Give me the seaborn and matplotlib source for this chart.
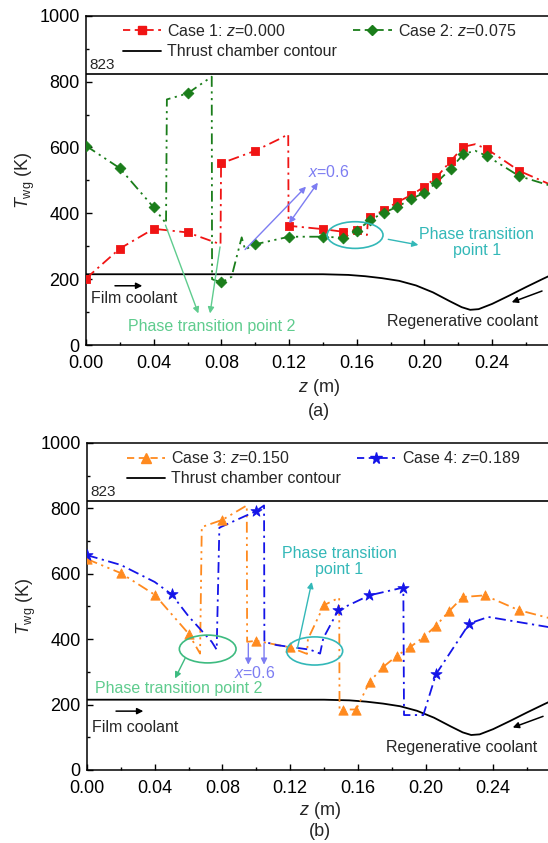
import numpy as np
import matplotlib
matplotlib.use('Agg')
import matplotlib.pyplot as plt
import seaborn as sns
from matplotlib.patches import Ellipse
from matplotlib.lines import Line2D
from matplotlib.ticker import MultipleLocator, FormatStrFormatter

# ---------------- data ----------------
# thrust chamber contour (same in both panels)
z_contour = [0, 0.05, 0.10, 0.14, 0.155, 0.165, 0.175, 0.185, 0.195, 0.205, 0.215,
             0.222, 0.227, 0.232, 0.24, 0.25, 0.26, 0.27, 0.275]
T_contour = [215, 215, 215, 215, 213, 209, 203, 195, 181, 160, 133,
             115, 107, 109, 125, 150, 176, 201, 213]

# Case 1: z=0.000 (red squares)
z1_line = [0.0, 0.02, 0.04, 0.06, 0.0795, 0.0798, 0.08, 0.10, 0.114, 0.1195, 0.1197, 0.12,
           0.14, 0.152, 0.160, 0.166, 0.1665, 0.168, 0.176, 0.184, 0.192, 0.200, 0.207,
           0.2155, 0.223, 0.230, 0.237, 0.256, 0.275]
T1_line = [202, 293, 353, 342, 306, 540, 552, 590, 625, 640, 370, 362,
           352, 344, 350, 334, 372, 388, 410, 434, 455, 481, 509,
           559, 602, 610, 595, 529, 486]
z1_mark = [0.0, 0.02, 0.04, 0.06, 0.08, 0.10, 0.12, 0.14, 0.152, 0.160, 0.168, 0.176,
           0.184, 0.192, 0.200, 0.207, 0.2155, 0.223, 0.237, 0.256]
T1_mark = [202, 293, 353, 342, 552, 590, 362, 352, 344, 350, 388, 410,
           434, 455, 481, 509, 559, 602, 595, 529]

# Case 2: z=0.075 (green diamonds)
z2_line = [0.0, 0.02, 0.04, 0.0473, 0.0478, 0.06, 0.0743, 0.0745, 0.08, 0.086, 0.092, 0.094,
           0.10, 0.12, 0.14, 0.152, 0.160, 0.168, 0.176, 0.184, 0.192, 0.200, 0.207,
           0.2155, 0.223, 0.230, 0.237, 0.256, 0.275]
T2_line = [605, 537, 418, 369, 746, 764, 815, 200, 190, 207, 327, 290,
           306, 329, 329, 326, 347, 380, 402, 420, 443, 463, 493,
           535, 580, 590, 574, 513, 483]
z2_mark = [0.0, 0.02, 0.04, 0.06, 0.08, 0.10, 0.12, 0.14, 0.152, 0.160, 0.168, 0.176,
           0.184, 0.192, 0.200, 0.207, 0.2155, 0.223, 0.237, 0.256]
T2_mark = [605, 537, 418, 764, 190, 306, 329, 329, 326, 347, 380, 402,
           420, 443, 463, 493, 535, 580, 574, 513]

# Case 3: z=0.150 (orange triangles)
z3_line = [0.0, 0.02, 0.04, 0.06, 0.0668, 0.0678, 0.08, 0.0944, 0.0946, 0.10, 0.12, 0.13,
           0.1305, 0.14, 0.149, 0.1492, 0.151, 0.159, 0.167, 0.175, 0.183, 0.191, 0.199,
           0.206, 0.214, 0.222, 0.235, 0.255, 0.275]
T3_line = [645, 602, 536, 417, 356, 743, 765, 809, 392, 395, 375, 355,
           400, 504, 527, 185, 185, 185, 270, 315, 349, 376, 407,
           440, 486, 529, 534, 489, 462]
z3_mark = [0.0, 0.02, 0.04, 0.06, 0.08, 0.10, 0.12, 0.14, 0.151, 0.159, 0.167, 0.175,
           0.183, 0.191, 0.199, 0.206, 0.214, 0.222, 0.235, 0.255]
T3_mark = [645, 602, 536, 417, 765, 395, 375, 504, 185, 185, 270, 315,
           349, 376, 407, 440, 486, 529, 534, 489]

# Case 4: z=0.189 (blue stars)
z4_line = [0.0, 0.02, 0.04, 0.05, 0.06, 0.0737, 0.0766, 0.0782, 0.10, 0.1046, 0.1048, 0.112,
           0.1318, 0.1377, 0.1396, 0.1485, 0.1668, 0.1869, 0.1873, 0.1987, 0.2062,
           0.2259, 0.2371, 0.275]
T4_line = [657, 627, 575, 537, 470, 392, 368, 741, 792, 809, 392, 382,
           368, 356, 403, 489, 534, 558, 168, 168, 293,
           448, 468, 435]
z4_mark = [0.0, 0.05, 0.10, 0.1485, 0.1668, 0.1869, 0.2062, 0.2259]
T4_mark = [657, 537, 792, 489, 534, 558, 293, 448]

labels_a = ['Case 1: $z$=0.000', 'Case 2: $z$=0.075', 'Thrust chamber contour']
labels_b = ['Case 3: $z$=0.150', 'Case 4: $z$=0.189', 'Thrust chamber contour']

# ---------------- style ----------------
sns.set_theme(style='white')
plt.rcParams['font.family'] = ['Liberation Sans', 'DejaVu Sans']
plt.rcParams['mathtext.fontset'] = 'custom'
plt.rcParams['mathtext.rm'] = 'Liberation Sans'
plt.rcParams['mathtext.it'] = 'Liberation Sans:italic'
plt.rcParams['axes.edgecolor'] = 'black'
plt.rcParams['axes.linewidth'] = 1.1

RED = '#f01414'
GREEN = '#1a7d1a'
ORANGE = '#ff8a1f'
BLUE = '#1414e8'
TEAL = '#33b8b8'
LGREEN = '#5fcc8e'
VIOLET = '#7d7df2'

LS_DD = (0, (6, 2.5, 1.2, 2.5))            # dash-dot
LS_DDD = (0, (6, 2.5, 1.2, 2.5, 1.2, 2.5))  # dash-dot-dot

fig = plt.figure(figsize=(5.48, 8.43), dpi=100)
ax_a = fig.add_axes([0.1569, 0.5907, 0.8493, 0.3906])
ax_b = fig.add_axes([0.1588, 0.0866, 0.8493, 0.3879])


def draw_case(ax, zl, Tl, zm, Tm, color, ls, marker, s):
    sns.lineplot(x=zl, y=Tl, sort=False, estimator=None, color=color,
                 linestyle=ls, lw=1.3, ax=ax, zorder=2)
    sns.scatterplot(x=zm, y=Tm, marker=marker, s=s, color=color,
                    edgecolor=color, linewidth=0.6, ax=ax, zorder=3)
    return Line2D([], [], color=color, linestyle=(0, (4, 2.5)), lw=1.3,
                  marker=marker, markersize=np.sqrt(s), markeredgecolor=color)


def setup_axes(ax):
    ax.set_xlim(0, 0.275)
    ax.set_ylim(0, 1000)
    ax.xaxis.set_major_locator(MultipleLocator(0.04))
    ax.xaxis.set_minor_locator(MultipleLocator(0.02))
    ax.yaxis.set_major_locator(MultipleLocator(200))
    ax.yaxis.set_minor_locator(MultipleLocator(100))
    ax.xaxis.set_major_formatter(FormatStrFormatter('%.2f'))
    ax.tick_params(which='both', direction='in', top=False, right=False,
                   bottom=True, left=True, labelsize=13, colors='black')
    ax.tick_params(axis='x', which='both', pad=7)
    ax.tick_params(axis='y', which='both', pad=4.5)
    ax.tick_params(which='major', length=4, width=1)
    ax.tick_params(which='minor', length=2.5, width=1)
    for sp in ax.spines.values():
        sp.set_color('black')
    ax.set_ylabel(r'$T_{\rm wg}$ (K)', fontsize=13)
    ax.set_xlabel(r'$z$ (m)', fontsize=13)
    ax.yaxis.label.set_va('center')
    ax.xaxis.label.set_va('center')
    ax.yaxis.set_label_coords(-0.131, 0.5)
    # 823 K line
    ax.axhline(823, color='black', lw=1.2, zorder=1)
    ax.text(0.002, 828, '823', fontsize=11, ha='left', va='bottom')
    # contour
    sns.lineplot(x=z_contour, y=T_contour, sort=False, estimator=None,
                 color='black', lw=1.3, ax=ax, zorder=2)
    # coolant flow arrows
    ax.annotate('', xy=(0.0349, 180), xytext=(0.0155, 180),
                arrowprops=dict(arrowstyle='-|>', color='black', lw=1.1, mutation_scale=9))
    ax.annotate('', xy=(0.2500, 127), xytext=(0.2710, 167),
                arrowprops=dict(arrowstyle='-|>', color='black', lw=1.1, mutation_scale=9))
    return Line2D([], [], color='black', lw=1.3)


def arrow(ax, start, end, color, style='-|>'):
    ax.annotate('', xy=end, xytext=start,
                arrowprops=dict(arrowstyle=style, color=color, lw=1.0, mutation_scale=9,
                                shrinkA=0, shrinkB=0))


LEG_KW = dict(ncol=2, loc='upper left', frameon=False, fontsize=11.5,
              handlelength=2.4, handletextpad=0.4, columnspacing=1.0,
              labelspacing=0.32, borderpad=0, borderaxespad=0)

# ---------------- panel (a) ----------------
hc = setup_axes(ax_a)
h1 = draw_case(ax_a, z1_line, T1_line, z1_mark, T1_mark, RED, LS_DD, 's', 30)
h2 = draw_case(ax_a, z2_line, T2_line, z2_mark, T2_mark, GREEN, LS_DDD, 'D', 30)
ax_a.legend([h1, hc, h2], [labels_a[0], labels_a[2], labels_a[1]],
            bbox_to_anchor=(0.079, 0.978), **LEG_KW)
ax_a.xaxis.set_label_coords(0.5, -0.1275)
ax_a.text(0.0028, 140, 'Film coolant', fontsize=11.5, ha='left', va='center')
ax_a.text(0.2225, 70, 'Regenerative coolant', fontsize=11.5, ha='center', va='center')

ax_a.text(0.0741, 55, 'Phase transition point 2', color=LGREEN, fontsize=11.5,
          ha='center', va='center')
arrow(ax_a, (0.047, 364), (0.0664, 96), LGREEN)
arrow(ax_a, (0.0792, 298), (0.0733, 96), LGREEN)

ax_a.text(0.1436, 526, '$x$=0.6', color=VIOLET, fontsize=11.5, ha='center', va='center')
arrow(ax_a, (0.094, 290), (0.130, 481), VIOLET)
arrow(ax_a, (0.120, 370), (0.137, 493), VIOLET, '<|-|>')

ax_a.add_patch(Ellipse((0.159, 334), 0.033, 81, fill=False, edgecolor=TEAL, lw=1.2, zorder=4))
arrow(ax_a, (0.1786, 321), (0.1964, 304), TEAL)
ax_a.text(0.231, 312, 'Phase transition\npoint 1', color=TEAL, fontsize=11.5,
          ha='center', va='center', linespacing=1.1)

# ---------------- panel (b) ----------------
hc = setup_axes(ax_b)
h3 = draw_case(ax_b, z3_line, T3_line, z3_mark, T3_mark, ORANGE, LS_DDD, '^', 45)
h4 = draw_case(ax_b, z4_line, T4_line, z4_mark, T4_mark, BLUE, LS_DD, '*', 70)
ax_b.legend([h3, hc, h4], [labels_b[0], labels_b[2], labels_b[1]],
            bbox_to_anchor=(0.085, 0.978), **LEG_KW)
ax_b.xaxis.set_label_coords(0.5, -0.1243)
ax_b.text(0.0028, 130, 'Film coolant', fontsize=11.5, ha='left', va='center')
ax_b.text(0.2214, 69, 'Regenerative coolant', fontsize=11.5, ha='center', va='center')

ax_b.add_patch(Ellipse((0.0713, 370), 0.0335, 85, fill=False, edgecolor='#3dbb80', lw=1.2, zorder=4))
arrow(ax_b, (0.0579, 341), (0.052, 280), '#3dbb80')
ax_b.text(0.054, 249, 'Phase transition point 2', color=LGREEN, fontsize=11.5,
          ha='center', va='center')

arrow(ax_b, (0.0953, 387), (0.0953, 322), VIOLET)
arrow(ax_b, (0.1046, 387), (0.1046, 322), VIOLET)
ax_b.text(0.0993, 297, '$x$=0.6', color=VIOLET, fontsize=11.5, ha='center', va='center')

ax_b.add_patch(Ellipse((0.1345, 364), 0.0331, 86, fill=False, edgecolor=TEAL, lw=1.2, zorder=4))
arrow(ax_b, (0.1243, 372), (0.1328, 575), TEAL)
ax_b.text(0.149, 637, 'Phase transition\npoint 1', color=TEAL, fontsize=11.5,
          ha='center', va='center', linespacing=1.1)

fig.text(0.5816, 1 - 412 / 843, '(a)', fontsize=13, ha='center', va='center')
fig.text(0.5834, 1 - 831.7 / 843, '(b)', fontsize=13, ha='center', va='center')

fig.savefig('out.png', dpi=100)
